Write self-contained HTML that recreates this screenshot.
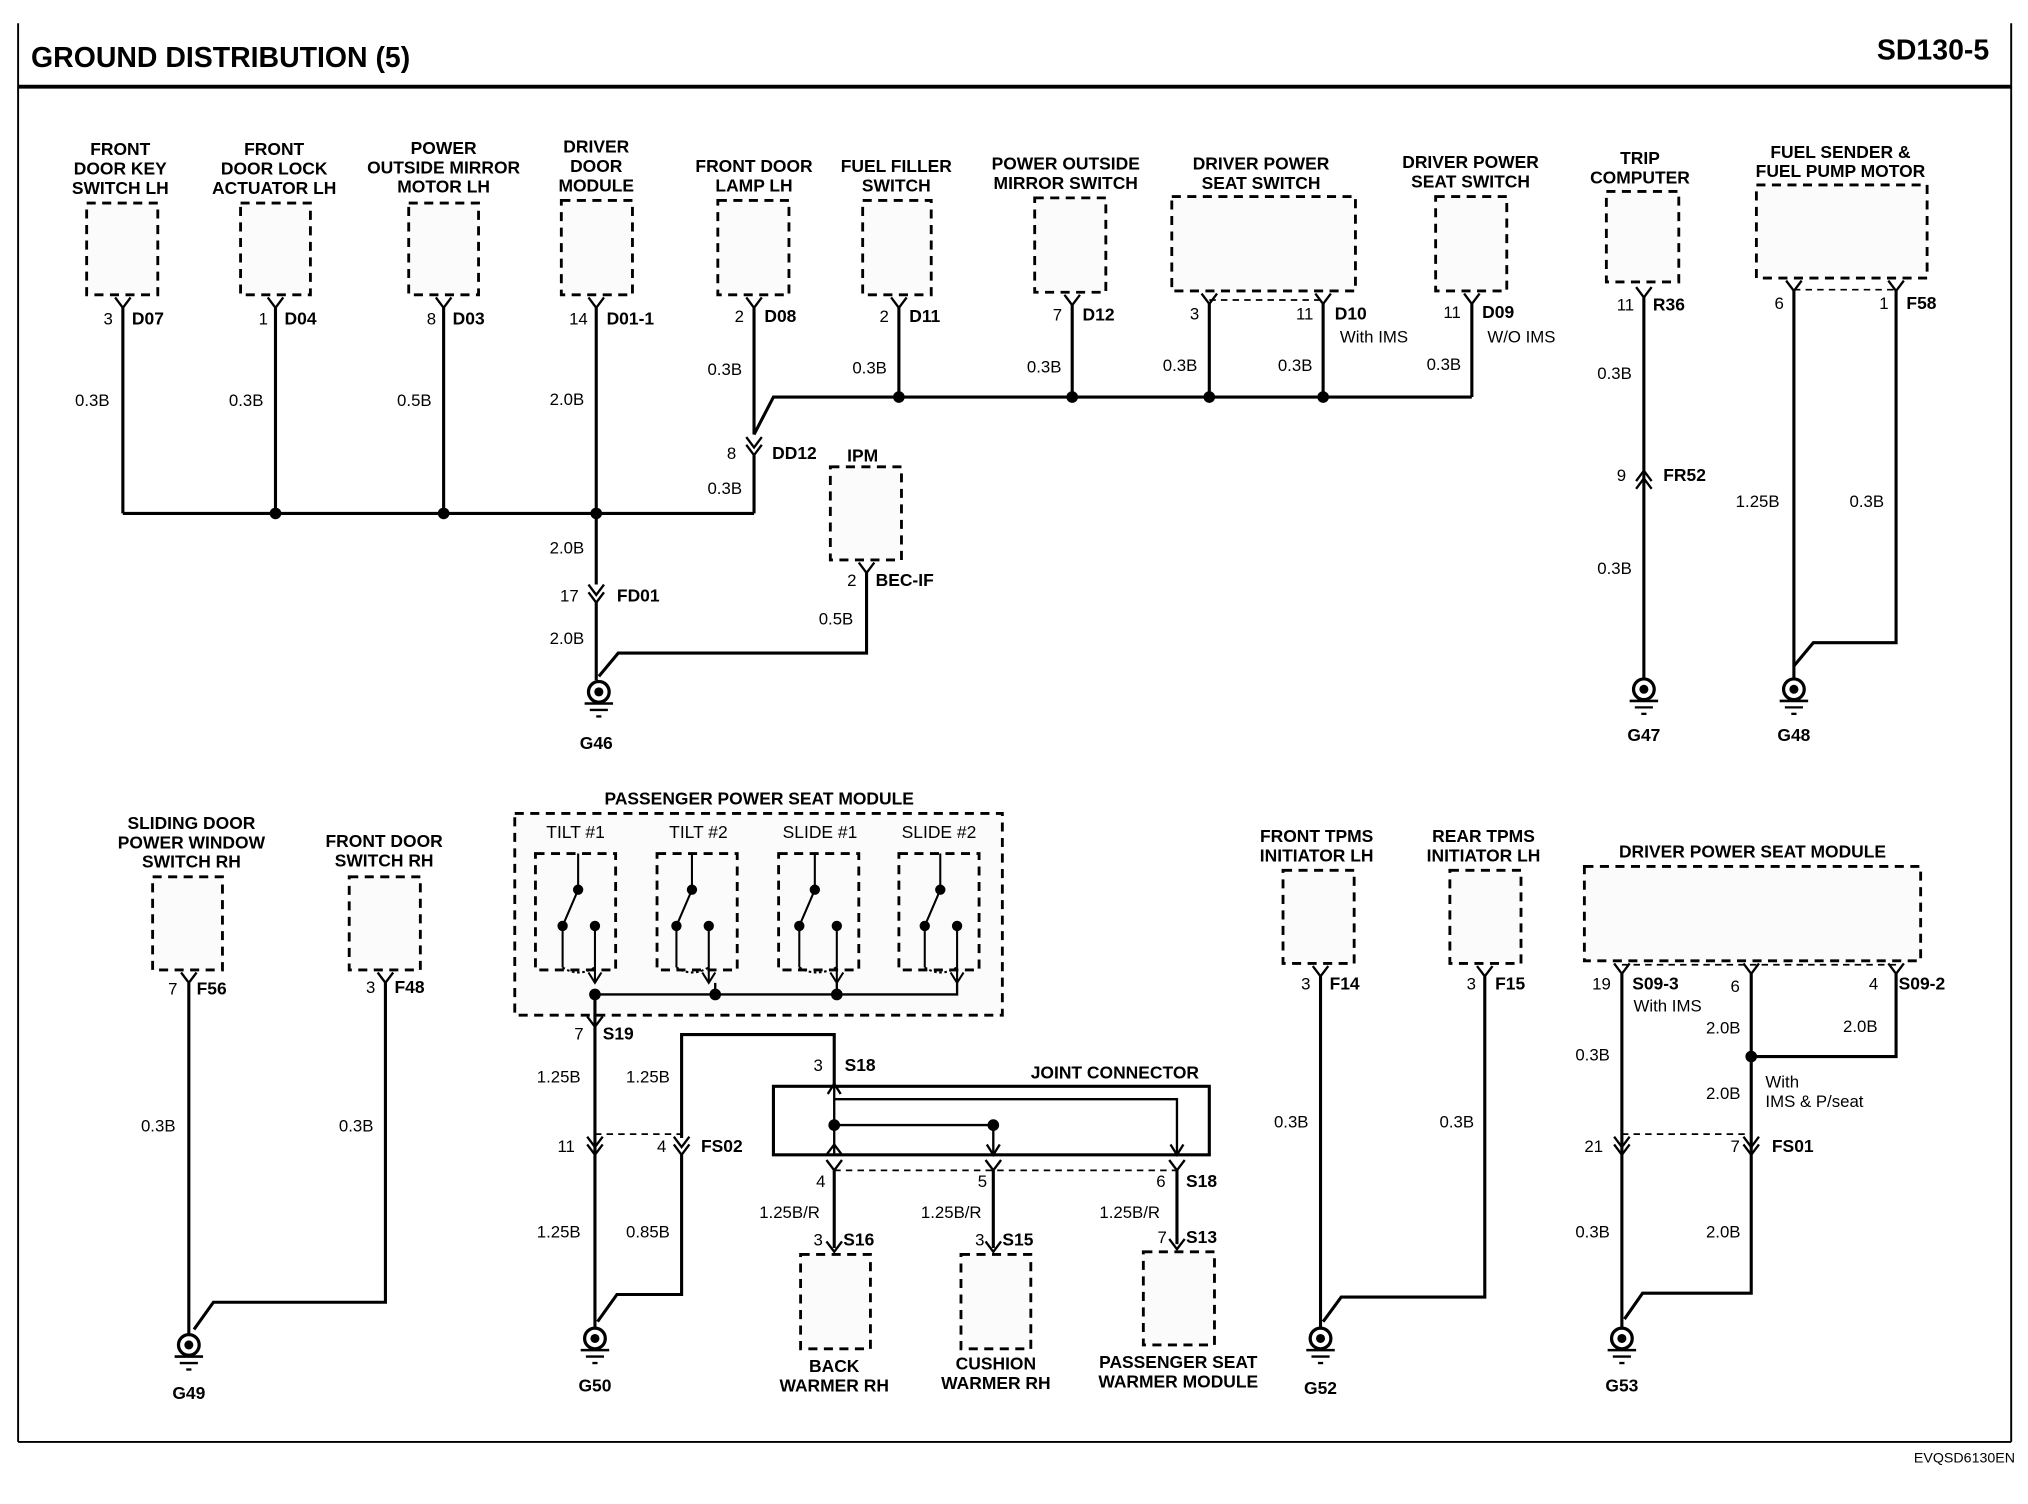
<!DOCTYPE html>
<html><head><meta charset="utf-8"><style>
html,body{margin:0;padding:0;background:#fff}
svg{display:block}
text{font-family:"Liberation Sans",Arial,sans-serif;fill:#000}
.b{font-weight:bold;font-size:13.5px;text-anchor:middle}
.bl{font-weight:bold;font-size:13.5px}
.n{font-size:13px}
.w{fill:none;stroke:#000;stroke-width:2.4}
.d{fill:#fbfbfb;stroke:#000;stroke-width:2.2;stroke-dasharray:7,5}
.dl{fill:none;stroke:#000;stroke-width:1.3;stroke-dasharray:5,4}
.c{fill:none;stroke:#000;stroke-width:1.8}
</style></head><body>
<svg width="2028" height="1504" viewBox="0 0 1568 1163" preserveAspectRatio="none" xmlns="http://www.w3.org/2000/svg">
<defs>
<g id="gnd"><circle cx="0" cy="0" r="8" fill="#fff" stroke="#000" stroke-width="2.5"/><circle cx="0" cy="0" r="3.5" fill="#000"/><line x1="-11" y1="9" x2="11" y2="9" stroke="#000" stroke-width="2"/><line x1="-7" y1="14" x2="7" y2="14" stroke="#000" stroke-width="1.8"/><line x1="-2" y1="19" x2="2" y2="19" stroke="#000" stroke-width="1.8"/></g>
<path id="pv" d="M-6,0 L0,8 L6,0" class="c"/>
<g id="vv"><path d="M-6,-6 L0,2 L6,-6 M-6,0 L0,8 L6,0" class="c"/></g>
</defs>
<!-- frame -->
<line x1="14" y1="18" x2="14" y2="1115" stroke="#000" stroke-width="1.5"/>
<line x1="1555" y1="18" x2="1555" y2="1115" stroke="#000" stroke-width="1.5"/>
<line x1="14" y1="1115" x2="1555" y2="1115" stroke="#000" stroke-width="1.5"/>
<line x1="14" y1="67" x2="1555" y2="67" stroke="#000" stroke-width="3"/>
<text x="24" y="52" style="font-weight:bold;font-size:22px">GROUND DISTRIBUTION (5)</text>
<text x="1538" y="46" style="font-weight:bold;font-size:22px;text-anchor:end">SD130-5</text>
<text x="1558" y="1131" class="n" style="font-size:11px;text-anchor:end">EVQSD6130EN</text>

<!-- TOP components -->
<text class="b" x="93" y="120">FRONT</text><text class="b" x="93" y="135">DOOR KEY</text><text class="b" x="93" y="150">SWITCH LH</text>
<rect class="d" x="67" y="157" width="55" height="71"/>
<use href="#pv" x="95" y="230"/><text class="n" x="80" y="251">3</text><text class="bl" x="102" y="251">D07</text>
<line class="w" x1="95" y1="238" x2="95" y2="397"/><text class="n" x="58" y="314">0.3B</text>

<text class="b" x="212" y="120">FRONT</text><text class="b" x="212" y="135">DOOR LOCK</text><text class="b" x="212" y="150">ACTUATOR LH</text>
<rect class="d" x="186" y="157" width="54" height="71"/>
<use href="#pv" x="213" y="230"/><text class="n" x="200" y="251">1</text><text class="bl" x="220" y="251">D04</text>
<line class="w" x1="213" y1="238" x2="213" y2="397"/><text class="n" x="177" y="314">0.3B</text>

<text class="b" x="343" y="119">POWER</text><text class="b" x="343" y="134">OUTSIDE MIRROR</text><text class="b" x="343" y="149">MOTOR LH</text>
<rect class="d" x="316" y="157" width="54" height="71"/>
<use href="#pv" x="343" y="230"/><text class="n" x="330" y="251">8</text><text class="bl" x="350" y="251">D03</text>
<line class="w" x1="343" y1="238" x2="343" y2="397"/><text class="n" x="307" y="314">0.5B</text>

<text class="b" x="461" y="118">DRIVER</text><text class="b" x="461" y="133">DOOR</text><text class="b" x="461" y="148">MODULE</text>
<rect class="d" x="434" y="155" width="55" height="73"/>
<use href="#pv" x="461" y="230"/><text class="n" x="440" y="251">14</text><text class="bl" x="469" y="251">D01-1</text>
<line class="w" x1="461" y1="238" x2="461" y2="452"/><text class="n" x="425" y="313">2.0B</text>

<line class="w" x1="95" y1="397" x2="583" y2="397"/>
<circle cx="213" cy="397" r="4.5"/><circle cx="343" cy="397" r="4.5"/><circle cx="461" cy="397" r="4.5"/>
<line class="w" x1="583" y1="397" x2="583" y2="352"/>
<use href="#vv" x="583" y="344"/><text class="n" x="562" y="355">8</text><text class="bl" x="597" y="355">DD12</text>
<text class="n" x="547" y="382">0.3B</text>

<text class="b" x="583" y="133">FRONT DOOR</text><text class="b" x="583" y="148">LAMP LH</text>
<rect class="d" x="555" y="155" width="55" height="73"/>
<use href="#pv" x="583" y="230"/><text class="n" x="568" y="249">2</text><text class="bl" x="591" y="249">D08</text>
<path class="w" d="M583,238 L583,336 M583,336 L598,307 L1138,307"/><text class="n" x="547" y="290">0.3B</text>

<text class="b" x="693" y="133">FUEL FILLER</text><text class="b" x="693" y="148">SWITCH</text>
<rect class="d" x="667" y="155" width="53" height="73"/>
<use href="#pv" x="695" y="230"/><text class="n" x="680" y="249">2</text><text class="bl" x="703" y="249">D11</text>
<line class="w" x1="695" y1="238" x2="695" y2="307"/><text class="n" x="659" y="289">0.3B</text>

<text class="b" x="824" y="131">POWER OUTSIDE</text><text class="b" x="824" y="146">MIRROR SWITCH</text>
<rect class="d" x="800" y="153" width="55" height="73"/>
<use href="#pv" x="829" y="228"/><text class="n" x="814" y="248">7</text><text class="bl" x="837" y="248">D12</text>
<line class="w" x1="829" y1="236" x2="829" y2="307"/><text class="n" x="794" y="288">0.3B</text>

<text class="b" x="975" y="131">DRIVER POWER</text><text class="b" x="975" y="146">SEAT SWITCH</text>
<rect class="d" x="906" y="152" width="142" height="73"/>
<line class="dl" x1="935" y1="232" x2="1023" y2="232"/>
<use href="#pv" x="935" y="227"/><text class="n" x="920" y="247">3</text>
<use href="#pv" x="1023" y="227"/><text class="n" x="1002" y="247">11</text><text class="bl" x="1032" y="247">D10</text>
<text class="n" x="1036" y="265">With IMS</text>
<line class="w" x1="935" y1="235" x2="935" y2="307"/><line class="w" x1="1023" y1="235" x2="1023" y2="307"/>
<text class="n" x="899" y="287">0.3B</text><text class="n" x="988" y="287">0.3B</text>

<text class="b" x="1137" y="130">DRIVER POWER</text><text class="b" x="1137" y="145">SEAT SWITCH</text>
<rect class="d" x="1110" y="152" width="55" height="73"/>
<use href="#pv" x="1138" y="227"/><text class="n" x="1116" y="246">11</text><text class="bl" x="1146" y="246">D09</text>
<text class="n" x="1150" y="265">W/O IMS</text>
<line class="w" x1="1138" y1="235" x2="1138" y2="307"/><text class="n" x="1103" y="286">0.3B</text>
<circle cx="695" cy="307" r="4.5"/><circle cx="829" cy="307" r="4.5"/><circle cx="935" cy="307" r="4.5"/><circle cx="1023" cy="307" r="4.5"/>

<text class="b" x="1268" y="127">TRIP</text><text class="b" x="1268" y="142">COMPUTER</text>
<rect class="d" x="1242" y="148" width="56" height="70"/>
<use href="#pv" x="1271" y="222"/><text class="n" x="1250" y="240">11</text><text class="bl" x="1278" y="240">R36</text>
<line class="w" x1="1271" y1="230" x2="1271" y2="525"/>
<path d="M1265,372 L1271,364 L1277,372 M1265,378 L1271,370 L1277,378" class="c"/>
<text class="n" x="1250" y="372">9</text><text class="bl" x="1286" y="372">FR52</text>
<text class="n" x="1235" y="293">0.3B</text><text class="n" x="1235" y="444">0.3B</text>
<use href="#gnd" x="1271" y="533"/><text class="b" x="1271" y="573">G47</text>

<text class="b" x="1423" y="122">FUEL SENDER &amp;</text><text class="b" x="1423" y="137">FUEL PUMP MOTOR</text>
<rect class="d" x="1358" y="143" width="132" height="72"/>
<line class="dl" x1="1387" y1="224" x2="1466" y2="224"/>
<use href="#pv" x="1387" y="217"/><text class="n" x="1372" y="239">6</text>
<use href="#pv" x="1466" y="217"/><text class="n" x="1453" y="239">1</text><text class="bl" x="1474" y="239">F58</text>
<path class="w" d="M1387,225 L1387,525 M1466,225 L1466,497 L1402,497 L1387,515"/>
<text class="n" x="1342" y="392">1.25B</text><text class="n" x="1430" y="392">0.3B</text>
<use href="#gnd" x="1387" y="533"/><text class="b" x="1387" y="573">G48</text>

<!-- G46 -->
<use href="#vv" x="461" y="458"/><text class="n" x="433" y="465">17</text><text class="bl" x="477" y="465">FD01</text>
<line class="w" x1="461" y1="466" x2="461" y2="526"/>
<text class="n" x="425" y="428">2.0B</text><text class="n" x="425" y="498">2.0B</text>
<text class="b" x="667" y="357">IPM</text>
<rect class="d" x="642" y="361" width="55" height="72"/>
<use href="#pv" x="670" y="435"/><text class="n" x="655" y="453">2</text><text class="bl" x="677" y="453">BEC-IF</text>
<path class="w" d="M670,443 L670,505 L478,505 L463,523"/>
<text class="n" x="633" y="483">0.5B</text>
<use href="#gnd" x="463" y="535"/><text class="b" x="461" y="579">G46</text>

<!-- BOTTOM -->
<text class="b" x="148" y="641">SLIDING DOOR</text><text class="b" x="148" y="656">POWER WINDOW</text><text class="b" x="148" y="671">SWITCH RH</text>
<rect class="d" x="118" y="678" width="54" height="72"/>
<use href="#pv" x="146" y="752"/><text class="n" x="130" y="769">7</text><text class="bl" x="152" y="769">F56</text>
<line class="w" x1="146" y1="760" x2="146" y2="1032"/><text class="n" x="109" y="875">0.3B</text>
<text class="b" x="297" y="655">FRONT DOOR</text><text class="b" x="297" y="670">SWITCH RH</text>
<rect class="d" x="270" y="678" width="55" height="72"/>
<use href="#pv" x="298" y="752"/><text class="n" x="283" y="768">3</text><text class="bl" x="305" y="768">F48</text>
<path class="w" d="M298,760 L298,1007 L165,1007 L150,1028"/><text class="n" x="262" y="875">0.3B</text>
<use href="#gnd" x="146" y="1040"/><text class="b" x="146" y="1082">G49</text>

<text class="b" x="587" y="622">PASSENGER POWER SEAT MODULE</text>
<rect class="d" x="398" y="629" width="377" height="156"/>
<g class="n" style="text-anchor:middle;font-size:13.5px"><text x="445" y="648">TILT #1</text><text x="540" y="648">TILT #2</text><text x="634" y="648">SLIDE #1</text><text x="726" y="648">SLIDE #2</text></g>
<rect class="d" x="414" y="660" width="62" height="90" fill="none"/>
<rect class="d" x="508" y="660" width="62" height="90" fill="none"/>
<rect class="d" x="602" y="660" width="62" height="90" fill="none"/>
<rect class="d" x="695" y="660" width="62" height="90" fill="none"/>
<g stroke="#000" stroke-width="1.6" fill="none">
<path d="M447,660 L447,688 L435,716 M535,660 L535,688 L523,716 M630,660 L630,688 L618,716 M727,660 L727,688 L715,716"/>
<path d="M435,716 L435,748 M460,716 L460,760 M523,716 L523,748 M548,716 L548,760 M618,716 L618,748 M647,716 L647,760 M715,716 L715,748 M740,716 L740,760"/>
<path d="M435,748 Q447,756 460,748 M523,748 Q535,756 548,748 M618,748 Q630,756 647,748 M715,748 Q727,756 740,748" stroke-dasharray="2,2"/>
<path d="M455,752 L460,760 L465,752 M543,752 L548,760 L553,752 M642,752 L647,760 L652,752 M735,752 L740,760 L745,752"/>
</g>
<g><circle cx="447" cy="688" r="4"/><circle cx="435" cy="716" r="4"/><circle cx="460" cy="716" r="4"/>
<circle cx="535" cy="688" r="4"/><circle cx="523" cy="716" r="4"/><circle cx="548" cy="716" r="4"/>
<circle cx="630" cy="688" r="4"/><circle cx="618" cy="716" r="4"/><circle cx="647" cy="716" r="4"/>
<circle cx="727" cy="688" r="4"/><circle cx="715" cy="716" r="4"/><circle cx="740" cy="716" r="4"/></g>
<path d="M460,769 L740,769 L740,760" stroke="#000" stroke-width="1.8" fill="none"/>
<path d="M553,760 L553,769 M647,760 L647,769" stroke="#000" stroke-width="1.8"/>
<circle cx="460" cy="769" r="4.5"/><circle cx="553" cy="769" r="4.5"/><circle cx="647" cy="769" r="4.5"/>
<line class="w" x1="460" y1="769" x2="460" y2="1027"/>
<use href="#pv" x="460" y="786"/><text class="n" x="444" y="804">7</text><text class="bl" x="466" y="804">S19</text>
<text class="n" x="415" y="837">1.25B</text><text class="n" x="484" y="837">1.25B</text>
<line class="dl" x1="460" y1="877" x2="527" y2="877"/>
<use href="#vv" x="460" y="885"/><text class="n" x="431" y="891">11</text>
<use href="#vv" x="527" y="885"/><text class="n" x="508" y="891">4</text><text class="bl" x="542" y="891">FS02</text>
<path class="w" d="M527,880 L527,800 L645,800 L645,840 M527,893 L527,1001 L477,1001 L462,1022"/>
<text class="n" x="415" y="957">1.25B</text><text class="n" x="484" y="957">0.85B</text>
<use href="#gnd" x="460" y="1035"/><text class="b" x="460" y="1076">G50</text>

<text class="n" x="629" y="828">3</text><text class="bl" x="653" y="828">S18</text>
<text class="b" x="862" y="834">JOINT CONNECTOR</text>
<rect x="598" y="840" width="337" height="53" fill="none" stroke="#000" stroke-width="2.4"/>
<g stroke="#000" stroke-width="1.8" fill="none">
<path d="M645,840 L645,893 M645,850 L910,850 L910,893 M645,870 L768,870 L768,893"/>
<path d="M640,846 L645,838 L650,846 M639,893 L645,885 L651,893 M763,885 L768,893 L773,885 M905,885 L910,893 L915,885"/>
</g>
<circle cx="645" cy="870" r="4.5"/><circle cx="768" cy="870" r="4.5"/>
<line class="dl" x1="645" y1="905" x2="910" y2="905"/>
<use href="#pv" x="645" y="897"/><text class="n" x="631" y="918">4</text>
<use href="#pv" x="768" y="897"/><text class="n" x="756" y="918">5</text>
<use href="#pv" x="910" y="897"/><text class="n" x="894" y="918">6</text><text class="bl" x="917" y="918">S18</text>
<path class="w" d="M645,905 L645,965 M768,905 L768,965 M910,905 L910,962"/>
<text class="n" x="587" y="942">1.25B/R</text><text class="n" x="712" y="942">1.25B/R</text><text class="n" x="850" y="942">1.25B/R</text>
<use href="#pv" x="645" y="960"/><text class="n" x="629" y="963">3</text><text class="bl" x="652" y="963">S16</text>
<use href="#pv" x="768" y="960"/><text class="n" x="754" y="963">3</text><text class="bl" x="775" y="963">S15</text>
<use href="#pv" x="910" y="958"/><text class="n" x="895" y="961">7</text><text class="bl" x="917" y="961">S13</text>
<rect class="d" x="619" y="970" width="54" height="73"/>
<rect class="d" x="743" y="970" width="54" height="73"/>
<rect class="d" x="884" y="968" width="55" height="72"/>
<text class="b" x="645" y="1061">BACK</text><text class="b" x="645" y="1076">WARMER RH</text>
<text class="b" x="770" y="1059">CUSHION</text><text class="b" x="770" y="1074">WARMER RH</text>
<text class="b" x="911" y="1058">PASSENGER SEAT</text><text class="b" x="911" y="1073">WARMER MODULE</text>

<text class="b" x="1018" y="651">FRONT TPMS</text><text class="b" x="1018" y="666">INITIATOR LH</text>
<rect class="d" x="992" y="673" width="55" height="72"/>
<use href="#pv" x="1021" y="747"/><text class="n" x="1006" y="765">3</text><text class="bl" x="1028" y="765">F14</text>
<line class="w" x1="1021" y1="755" x2="1021" y2="1027"/><text class="n" x="985" y="872">0.3B</text>
<text class="b" x="1147" y="651">REAR TPMS</text><text class="b" x="1147" y="666">INITIATOR LH</text>
<rect class="d" x="1121" y="673" width="55" height="72"/>
<use href="#pv" x="1148" y="747"/><text class="n" x="1134" y="765">3</text><text class="bl" x="1156" y="765">F15</text>
<path class="w" d="M1148,755 L1148,1003 L1037,1003 L1023,1022"/><text class="n" x="1113" y="872">0.3B</text>
<use href="#gnd" x="1021" y="1035"/><text class="b" x="1021" y="1078">G52</text>

<text class="b" x="1355" y="663">DRIVER POWER SEAT MODULE</text>
<rect class="d" x="1225" y="670" width="260" height="73"/>
<line class="dl" x1="1254" y1="746" x2="1466" y2="746"/>
<use href="#pv" x="1254" y="745"/><text class="n" x="1231" y="765">19</text><text class="bl" x="1262" y="765">S09-3</text>
<text class="n" x="1263" y="782">With IMS</text>
<use href="#pv" x="1354" y="745"/><text class="n" x="1338" y="767">6</text>
<use href="#pv" x="1466" y="745"/><text class="n" x="1445" y="765">4</text><text class="bl" x="1468" y="765">S09-2</text>
<path class="w" d="M1254,753 L1254,1027 M1354,753 L1354,1000 L1270,1000 L1256,1020 M1466,753 L1466,817 L1354,817"/>
<circle cx="1354" cy="817" r="4.5"/>
<text class="n" x="1319" y="799">2.0B</text><text class="n" x="1425" y="798">2.0B</text>
<text class="n" x="1365" y="841">With</text><text class="n" x="1365" y="856">IMS &amp; P/seat</text>
<text class="n" x="1319" y="850">2.0B</text>
<line class="dl" x1="1254" y1="877" x2="1354" y2="877"/>
<use href="#vv" x="1254" y="885"/><text class="n" x="1225" y="891">21</text>
<use href="#vv" x="1354" y="885"/><text class="n" x="1338" y="891">7</text><text class="bl" x="1370" y="891">FS01</text>
<text class="n" x="1218" y="820">0.3B</text><text class="n" x="1218" y="957">0.3B</text><text class="n" x="1319" y="957">2.0B</text>
<use href="#gnd" x="1254" y="1035"/><text class="b" x="1254" y="1076">G53</text>
</svg>
</body></html>
